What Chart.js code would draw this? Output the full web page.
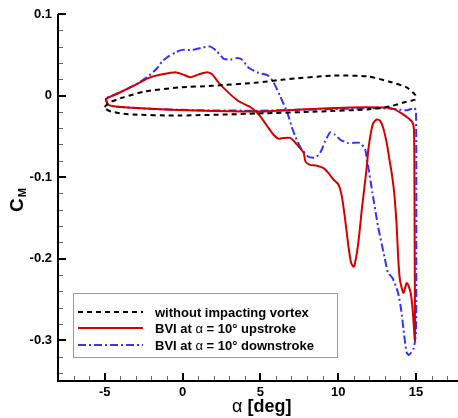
<!DOCTYPE html>
<html lang="en">
<head>
    <meta charset="UTF-8">
    <title>Pitching moment loops</title>
    <script src="https://cdn.jsdelivr.net/npm/chart.js"></script>
    <style>
        body { margin: 0; background: #fff; }
        canvas { display: block; }
    </style>
</head>
<body>
<canvas id="cmChart" width="458" height="418"></canvas>
<script>
    // tick labels
    const xMajor = [-5, 0, 5, 10, 15];
    const yMajor = [0.1, 0, -0.1, -0.2, -0.3];

    // without impacting vortex (closed loop)
    const baseAlpha = [-5.0, -4.75, -3.85, -2.4, -0.25, 1.9, 4.87, 6.5, 9.7, 11.9, 13.3, 14.4, 14.94, 15.0,
        14.94, 14.2, 13.3, 11.9, 8.65, 4.87, -0.25, -3.5, -4.6, -4.95, -5.0];
    const baseCm = [-0.014, -0.009, -0.0025, 0.005, 0.0098, 0.012, 0.016, 0.0196, 0.0245, 0.0235, 0.017, 0.010, 0.0012, -0.002,
        -0.005, -0.0086, -0.0135, -0.017, -0.0196, -0.022, -0.0245, -0.023, -0.0196, -0.016, -0.014];

    // BVI at alpha = 10 deg upstroke
    const upAlpha = [-4.94, -4.8, -4.3, -2.37, 0.83, 4.87, 7.56, 10.77, 12.9, 13.5, 14.17, 14.74, 14.87, 14.9, 14.92, 14.93,
        14.79, 14.66, 14.5, 14.4, 14.19, 13.97, 13.86, 13.76, 13.6, 13.44, 13.3, 13.12, 12.9, 12.7, 12.48, 12.26, 12.1, 11.94, 11.84,
        11.52, 11.3, 11.09, 10.98, 10.83, 10.66, 10.45, 10.24, 10.02, 9.7, 9.38, 9.06, 8.63, 8.2, 7.9, 7.78, 7.35, 6.92, 6.5, 6.18,
        5.85, 5.53, 5.21, 4.89, 4.57, 4.25, 3.61, 2.97, 2.33, 1.9, 1.58, 1.05, 0.51, 0, -0.45, -1.3, -2.16, -3.0, -3.87, -4.6, -4.94];
    const upCm = [-0.004, -0.011, -0.0135, -0.016, -0.0184, -0.0196, -0.0172, -0.0147, -0.0147, -0.016, -0.023, -0.032, -0.042, -0.1, -0.2, -0.30,
        -0.263, -0.242, -0.232, -0.23, -0.242, -0.226, -0.2, -0.16, -0.119, -0.095, -0.079, -0.058, -0.04, -0.031, -0.0294, -0.0335, -0.046, -0.066, -0.087,
        -0.14, -0.18, -0.205, -0.21, -0.205, -0.185, -0.152, -0.124, -0.109, -0.103, -0.095, -0.089, -0.086, -0.085, -0.081, -0.070, -0.06, -0.052, -0.052, -0.053,
        -0.048, -0.04, -0.031, -0.023, -0.017, -0.013, -0.007, 0.0033, 0.0156, 0.026, 0.0286, 0.026, 0.0225, 0.026, 0.0286, 0.026, 0.0217, 0.0135, 0.0053, -0.001, -0.004];

    // BVI at alpha = 10 deg downstroke
    const downAlpha = [-4.94, -4.8, -4.3, -2.37, 0.83, 4.87, 7.56, 10.77, 12.9, 13.8, 14.4, 14.75, 14.9, 15.0, 15.02, 15.02, 15.0,
        14.85, 14.55, 14.4, 14.25, 14.05, 13.85, 13.5, 13.2, 13.0, 12.56, 12.2, 11.86, 11.73, 11.4, 10.96, 10.58, 10.13, 9.8, 9.49,
        9.17, 8.85, 8.53, 8.08, 7.56, 7.12, 6.73, 6.28, 5.83, 5.5, 4.87, 4.25, 3.83, 3.5, 3.08, 2.65, 2.22, 1.8, 1.3, 0.64, 0,
        -0.45, -0.9, -1.3, -1.7, -2.25, -2.8, -3.0, -3.87, -4.6, -4.94];
    const downCm = [-0.003, -0.011, -0.0135, -0.016, -0.018, -0.0185, -0.0175, -0.016, -0.0155, -0.017, -0.018, -0.016, -0.015, -0.02, -0.1, -0.2, -0.29,
        -0.31, -0.318, -0.315, -0.295, -0.263, -0.242, -0.224, -0.217, -0.2, -0.16, -0.119, -0.079, -0.066, -0.058, -0.058, -0.058, -0.054, -0.048, -0.045,
        -0.056, -0.07, -0.076, -0.075, -0.063, -0.044, -0.021, -0.001, 0.017, 0.0245, 0.028, 0.034, 0.044, 0.046, 0.044, 0.045, 0.054, 0.06, 0.059, 0.056, 0.056,
        0.053, 0.048, 0.042, 0.032, 0.023, 0.016, 0.0135, 0.0053, -0.001, -0.003];

    const toPoints = (xs, ys) => xs.map((x, i) => ({ x: x, y: ys[i] }));

    const boldFont = 'bold 13px "Liberation Sans", Arial, sans-serif';
    const plainFont = '13px "Liberation Sans", Arial, sans-serif';

    // draws text pieces, alpha in plain weight, the rest bold
    function drawMixed(ctx, parts, x, y, size) {
        parts.forEach(p => {
            ctx.font = (p.plain ? '' : 'bold ') + size + 'px "Liberation Sans", Arial, sans-serif';
            ctx.fillText(p.t, x, y);
            x += ctx.measureText(p.t).width;
        });
    }

    const legendParts = [
        [{ t: 'without impacting vortex' }],
        [{ t: 'BVI at ' }, { t: 'α', plain: true }, { t: ' = 10° upstroke' }],
        [{ t: 'BVI at ' }, { t: 'α', plain: true }, { t: ' = 10° downstroke' }]
    ];

    const axesPlugin = {
        id: 'axesPlugin',
        afterDraw(chart) {
            const ctx = chart.ctx;
            const area = chart.chartArea;
            const xs = chart.scales.x, ys = chart.scales.y;
            ctx.save();
            ctx.strokeStyle = '#000';
            ctx.setLineDash([]);

            // minor ticks
            ctx.lineWidth = 1;
            ctx.strokeStyle = '#666';
            for (let v = -7; v <= 17; v++) {
                if (xMajor.includes(v)) continue;
                const px = Math.round(xs.getPixelForValue(v)) + 0.5;
                ctx.beginPath(); ctx.moveTo(px, area.bottom); ctx.lineTo(px, area.bottom - 5); ctx.stroke();
            }
            for (let i = -17; i <= 5; i++) {
                const v = i * 0.02;
                if (i % 5 === 0) continue;
                const py = Math.round(ys.getPixelForValue(v)) + 0.5;
                ctx.beginPath(); ctx.moveTo(area.left, py); ctx.lineTo(area.left + 5, py); ctx.stroke();
            }

            // major ticks
            ctx.strokeStyle = '#000';
            ctx.lineWidth = 2;
            xMajor.forEach(v => {
                const px = Math.round(xs.getPixelForValue(v));
                ctx.beginPath(); ctx.moveTo(px, area.bottom); ctx.lineTo(px, area.bottom - 8); ctx.stroke();
            });
            yMajor.forEach(v => {
                const py = Math.round(ys.getPixelForValue(v));
                ctx.beginPath(); ctx.moveTo(area.left, py); ctx.lineTo(area.left + 8, py); ctx.stroke();
            });

            // axis lines
            ctx.beginPath();
            ctx.moveTo(area.left, area.top);
            ctx.lineTo(area.left, area.bottom);
            ctx.lineTo(area.right, area.bottom);
            ctx.stroke();

            // axis titles
            ctx.fillStyle = '#000';
            ctx.textBaseline = 'alphabetic';
            ctx.textAlign = 'left';
            drawMixed(ctx, [{ t: 'α', plain: true }, { t: ' [deg]' }], 232, 412, 18);

            ctx.save();
            ctx.translate(23, 212);
            ctx.rotate(-Math.PI / 2);
            ctx.font = 'bold 19px "Liberation Sans", Arial, sans-serif';
            ctx.fillText('C', 0, 0);
            const cw = ctx.measureText('C').width;
            ctx.font = 'bold 11px "Liberation Sans", Arial, sans-serif';
            ctx.fillText('M', cw + 1, 3);
            ctx.restore();

            // legend box
            const bx = 73, by = 293, bw = 264, bh = 64;
            ctx.fillStyle = '#fff';
            ctx.fillRect(bx, by, bw, bh);
            ctx.strokeStyle = '#999';
            ctx.lineWidth = 1;
            ctx.strokeRect(bx + 0.5, by + 0.5, bw, bh);
            const rows = [312, 328, 345];
            chart.data.datasets.forEach((ds, i) => {
                ctx.strokeStyle = ds.borderColor;
                ctx.lineWidth = ds.borderWidth;
                ctx.setLineDash(ds.borderDash || []);
                ctx.beginPath();
                ctx.moveTo(78, rows[i]);
                ctx.lineTo(143, rows[i]);
                ctx.stroke();
                ctx.setLineDash([]);
                ctx.fillStyle = '#000';
                ctx.textBaseline = 'middle';
                drawMixed(ctx, legendParts[i], 155, rows[i] + 1, 13);
            });
            ctx.restore();
        }
    };

    const ctx = document.getElementById('cmChart').getContext('2d');
    new Chart(ctx, {
        type: 'scatter',
        data: {
            datasets: [
                {
                    label: 'without impacting vortex',
                    data: toPoints(baseAlpha, baseCm),
                    showLine: true,
                    borderColor: '#000000',
                    borderWidth: 2,
                    borderDash: [5, 4],
                    pointRadius: 0,
                    tension: 0.2
                },
                {
                    label: 'BVI at α = 10° upstroke',
                    data: toPoints(upAlpha, upCm),
                    showLine: true,
                    borderColor: '#d40000',
                    borderWidth: 2,
                    pointRadius: 0,
                    tension: 0.2
                },
                {
                    label: 'BVI at α = 10° downstroke',
                    data: toPoints(downAlpha, downCm),
                    showLine: true,
                    borderColor: '#3333ff',
                    borderWidth: 2,
                    borderDash: [8, 3, 2, 3],
                    pointRadius: 0,
                    tension: 0.2
                }
            ]
        },
        options: {
            responsive: false,
            animation: false,
            devicePixelRatio: 1,
            layout: { padding: { top: 14, right: 0, left: 0, bottom: 0 } },
            plugins: {
                legend: { display: false },
                tooltip: { enabled: false }
            },
            scales: {
                x: {
                    type: 'linear',
                    min: -8,
                    max: 17.7,
                    afterBuildTicks: s => { s.ticks = xMajor.map(v => ({ value: v })); },
                    afterFit: s => { s.height = 37; },
                    grid: { display: false, drawTicks: false },
                    border: { display: false },
                    ticks: { color: '#000', font: { family: '"Liberation Sans", Arial, sans-serif', weight: 'bold', size: 13 }, padding: 4, maxRotation: 0 }
                },
                y: {
                    type: 'linear',
                    min: -0.35,
                    max: 0.1,
                    afterBuildTicks: s => { s.ticks = yMajor.map(v => ({ value: v })); },
                    afterFit: s => { s.width = 58; },
                    grid: { display: false, drawTicks: false },
                    border: { display: false },
                    ticks: {
                        color: '#000',
                        font: { family: '"Liberation Sans", Arial, sans-serif', weight: 'bold', size: 13 },
                        padding: 6,
                        callback: v => String(v)
                    }
                }
            }
        },
        plugins: [axesPlugin]
    });
</script>
</body>
</html>
